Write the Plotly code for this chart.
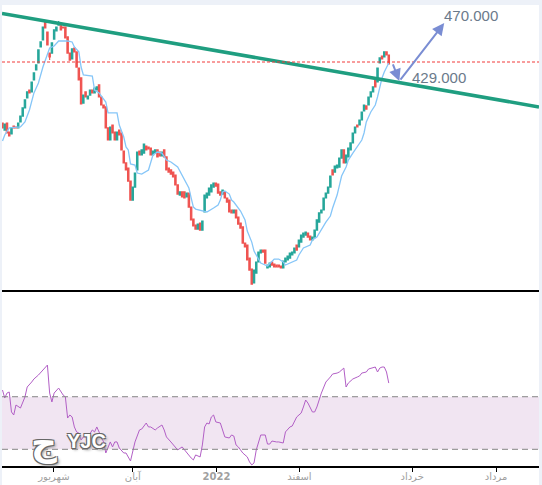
import plotly.graph_objects as go

# ---------------- data ----------------
OPEN = [398.6, 393.6, 398.6, 392.2, 390.8, 396.5, 395.8, 395.1, 399.4, 403.6,
        409.4, 416.5, 422.2, 420.8, 429.4, 436.5, 441.5, 452.9, 457.9, 470.8,
        463.6, 448.6, 448.6, 458.6, 464.4, 468.6, 469.4, 467.2, 467.2, 460.1,
        448.6, 444.4, 452.2, 449.4, 437.9, 430.8, 412.9, 420.8, 415.8, 418.6,
        422.2, 420.1, 422.2, 425.8, 417.2, 411.5, 410.1, 395.1, 386.5, 397.2,
        392.2, 386.5, 393.6, 391.5, 378.6, 370.1, 366.5, 357.2, 343.6, 352.9,
        365.1, 378.6, 375.8, 377.2, 382.2, 381.5, 380.8, 375.8, 377.2, 379.4,
        377.9, 375.1, 379.4, 374.4, 366.5, 365.1, 363.6, 361.5, 354.4, 347.2,
        349.4, 349.4, 345.8, 348.6, 338.6, 330.1, 325.8, 322.9, 327.2, 322.2,
        335.1, 345.1, 347.2, 349.4, 352.9, 355.8, 355.1, 349.4, 347.9, 349.4,
        345.1, 343.6, 336.5, 334.4, 336.5, 331.5, 327.2, 324.4, 312.9, 311.5,
        302.2, 294.4, 284.4, 291.5, 299.4, 305.8, 307.9, 307.9, 295.1, 295.8,
        299.4, 297.9, 297.2, 297.2, 296.5, 295.1, 299.4, 300.8, 302.2, 304.4,
        305.8, 311.5, 310.1, 313.6, 317.2, 318.6, 320.1, 317.9, 315.1, 317.2,
        322.2, 327.9, 334.4, 336.5, 345.1, 348.6, 352.9, 365.1, 363.6, 366.5,
        367.2, 373.6, 379.4, 370.1, 374.4, 379.4, 384.4, 391.5, 397.2, 397.2,
        400.8, 407.2, 410.8, 411.5, 417.2, 420.8, 429.4, 427.9, 441.5, 446.5,
        445.8, 449.4, 447.2]

CLOSE = [395.1, 397.9, 391.5, 389.4, 395.1, 395.1, 395.1, 398.6, 403.6, 409.4,
         415.1, 420.8, 420.1, 427.9, 434.4, 440.1, 450.8, 456.5, 467.2, 466.5,
         454.4, 445.8, 455.8, 465.1, 467.2, 469.4, 465.1, 466.5, 459.4, 448.6,
         443.6, 451.5, 449.4, 438.6, 429.4, 412.2, 418.6, 417.2, 417.9, 422.2,
         420.1, 423.6, 424.4, 417.2, 411.5, 409.4, 395.1, 386.5, 395.8, 391.5,
         386.5, 392.2, 390.1, 379.4, 370.1, 365.1, 357.2, 343.6, 352.9, 362.9,
         377.9, 375.8, 379.4, 383.6, 379.4, 380.1, 375.8, 378.6, 379.4, 374.4,
         375.1, 377.9, 374.4, 365.1, 363.6, 362.2, 360.1, 354.4, 347.9, 349.4,
         345.8, 345.1, 348.6, 338.6, 329.4, 325.1, 322.9, 326.5, 322.2, 328.6,
         347.2, 348.6, 352.2, 354.4, 355.8, 353.6, 348.6, 347.2, 350.8, 345.1,
         342.2, 335.1, 334.4, 336.5, 330.8, 326.5, 323.6, 312.9, 310.1, 300.8,
         293.6, 283.6, 293.6, 299.4, 306.5, 307.9, 306.5, 298.6, 297.2, 298.6,
         297.2, 295.8, 295.8, 295.8, 295.1, 300.1, 302.2, 303.6, 305.8, 306.5,
         309.4, 307.9, 315.1, 318.6, 320.1, 320.8, 317.2, 315.1, 317.2, 322.2,
         329.4, 334.4, 336.5, 345.1, 348.6, 352.9, 360.8, 361.5, 367.9, 368.6,
         373.6, 379.4, 370.1, 375.8, 380.8, 384.4, 391.5, 395.8, 395.8, 400.8,
         406.5, 411.5, 408.6, 417.2, 420.8, 424.4, 424.4, 437.9, 445.1, 444.4,
         449.4, 447.2, 440.8]

WICK_HIGH = {19: 472.2, 25: 471.5}
WICK_LOW = {21: 443.6}

MA_X = [0, 1, 3, 8, 10, 12, 14, 16, 18, 20, 21, 23, 25, 29, 31, 32, 34, 35, 36, 40,
        41, 43, 46, 47, 51, 52, 54, 55, 56, 57, 59, 60, 62, 65, 66, 67, 69, 71, 73, 75,
        78, 80, 81, 83, 84, 85, 86, 89, 91, 94, 96, 97, 98, 99, 101, 102, 103, 106, 108, 109,
        111, 112, 114, 115, 118, 120, 121, 123, 125, 126, 129, 131, 132, 134, 137, 138, 140, 142, 144, 146,
        147, 149, 150, 151, 153, 154, 156, 158, 160, 161, 162, 164, 166, 167, 168, 169, 170, 171, 172]
MA_Y = [385.8, 390.1, 395.1, 395.8, 399.4, 407.9, 420.1, 427.2, 438.6, 448.6, 452.2, 453.6, 457.2, 457.2, 456.5, 452.9, 449.4, 438.6, 432.9, 432.2,
        422.2, 420.1, 413.6, 405.8, 405.8, 397.2, 388.6, 381.5, 379.4, 369.4, 368.6, 362.9, 362.2, 365.1, 370.1, 375.8, 377.9, 377.2, 372.2, 370.8,
        367.2, 361.5, 357.9, 352.2, 345.1, 338.6, 337.2, 335.8, 335.1, 337.9, 340.1, 343.6, 349.4, 350.1, 347.9, 343.6, 342.2, 335.8, 329.4, 321.5,
        313.6, 307.2, 301.5, 298.6, 296.5, 299.4, 301.5, 301.5, 299.4, 297.2, 299.4, 300.8, 304.4, 309.4, 311.5, 315.1, 317.2, 322.9, 327.9, 332.2,
        337.9, 347.2, 354.4, 360.8, 367.2, 372.2, 377.2, 381.5, 386.5, 391.5, 399.4, 406.5, 411.5, 417.2, 424.4, 430.8, 435.1, 437.9, 441.5]

RSI_X = [0, 1, 2, 3, 4, 5, 6, 7, 8, 10, 11, 13, 14, 16, 18, 19, 20, 21, 22, 23,
         24, 25, 27, 28, 29, 30, 31, 32, 33, 34, 35, 36, 38, 40, 41, 42, 44, 45, 46, 48,
         49, 50, 51, 52, 54, 55, 57, 58, 59, 61, 62, 64, 65, 66, 68, 69, 71, 72, 73, 75,
         77, 78, 80, 82, 84, 85, 86, 88, 89, 90, 91, 92, 93, 94, 95, 97, 98, 99, 101, 102,
         103, 104, 105, 107, 109, 110, 111, 112, 113, 114, 115, 117, 118, 119, 120, 122, 123, 125, 126, 128,
         129, 131, 133, 134, 135, 136, 138, 139, 140, 142, 143, 144, 146, 147, 149, 150, 152, 153, 154, 156,
         158, 159, 160, 162, 163, 165, 166, 167, 168, 169, 170, 171, 172]
RSI_Y = [75.1, 69.0, 72.8, 73.6, 58.4, 56.1, 63.7, 62.2, 61.4, 69.8, 77.4, 81.2, 83.5, 86.5, 90.3, 93.0, 94.1, 72.8, 66.0, 72.8,
         75.1, 76.6, 71.3, 69.8, 53.8, 56.1, 54.6, 47.0, 43.2, 42.4, 37.1, 39.4, 39.4, 44.7, 43.2, 47.0, 39.4, 35.6, 27.2, 35.6,
         31.8, 35.6, 35.6, 31.0, 27.2, 27.2, 21.1, 29.5, 35.6, 44.7, 45.4, 50.0, 47.0, 47.0, 44.7, 46.2, 48.5, 44.7, 39.4, 35.6,
         31.8, 29.5, 31.8, 27.2, 23.4, 21.9, 25.7, 24.2, 33.3, 47.0, 50.0, 49.3, 54.6, 56.1, 50.8, 50.0, 44.7, 39.4, 38.6, 40.9,
         40.1, 33.3, 31.8, 27.2, 24.2, 20.4, 18.1, 19.6, 29.5, 35.6, 40.9, 40.9, 34.0, 34.0, 36.3, 35.6, 35.6, 34.8, 43.2, 47.0,
         47.7, 54.6, 57.6, 62.2, 67.5, 65.2, 58.4, 58.4, 62.2, 72.8, 77.4, 81.2, 85.0, 87.3, 88.0, 88.8, 91.8, 77.4, 80.4, 83.5,
         85.0, 85.8, 88.0, 88.8, 91.1, 91.8, 92.6, 88.8, 91.8, 92.6, 92.6, 88.8, 80.4]

RSI_BAND = [30, 70]
TREND_X = [-0.22, 238.9]
TREND_Y = [476.9, 410.1]
RESISTANCE = 442.2
TARGET_LOW = 429
TARGET_HIGH = 470
TICK_POS = [22.9, 58.0, 95.3, 132.2, 182.4, 219.8]
TICK_TEXT = ["شهریور", "آبان", "<b>2022</b>", "اسفند", "خرداد", "مرداد"]

# ---------------- figure ----------------
IDX = list(range(len(OPEN)))
HIGH = [max(o, c) for o, c in zip(OPEN, CLOSE)]
LOW = [min(o, c) for o, c in zip(OPEN, CLOSE)]
for k, v in WICK_HIGH.items():
    HIGH[k] = v
for k, v in WICK_LOW.items():
    LOW[k] = v

XR = [-0.22, 238.9]
fig = go.Figure()

fig.add_trace(go.Scatter(x=MA_X, y=MA_Y, mode="lines",
                         line=dict(color="#86c6f8", width=1.3),
                         xaxis="x", yaxis="y", hoverinfo="skip"))
fig.add_trace(go.Candlestick(
    x=IDX, open=OPEN, high=HIGH, low=LOW, close=CLOSE,
    increasing=dict(line=dict(color="#26a69a", width=1.2), fillcolor="#26a69a"),
    decreasing=dict(line=dict(color="#ef5350", width=1.2), fillcolor="#ef5350"),
    whiskerwidth=0, xaxis="x", yaxis="y"))
fig.add_trace(go.Scatter(x=TREND_X, y=TREND_Y, mode="lines",
                         line=dict(color="#1f9e80", width=3.5),
                         xaxis="x", yaxis="y", hoverinfo="skip"))
fig.add_trace(go.Scatter(x=RSI_X, y=RSI_Y, mode="lines",
                         line=dict(color="#b25fc6", width=1),
                         xaxis="x2", yaxis="y2", hoverinfo="skip"))

BORDER = "#edf1f8"
shapes = [
    dict(type="rect", xref="paper", yref="y2", x0=0, x1=1,
         y0=RSI_BAND[0], y1=RSI_BAND[1], fillcolor="#f1e5f2",
         line=dict(width=0), layer="below"),
    dict(type="line", xref="paper", yref="y2", x0=0, x1=1,
         y0=RSI_BAND[0], y1=RSI_BAND[0],
         line=dict(color="#858585", width=1, dash="6px,4px")),
    dict(type="line", xref="paper", yref="y2", x0=0, x1=1,
         y0=RSI_BAND[1], y1=RSI_BAND[1],
         line=dict(color="#858585", width=1, dash="6px,4px")),
    dict(type="line", xref="paper", yref="y", x0=0, x1=1,
         y0=RESISTANCE, y1=RESISTANCE,
         line=dict(color="#f23a3a", width=1.2, dash="3px,2px")),
    # page border strips
    dict(type="rect", xref="paper", yref="paper", x0=-0.004, x1=0,
         y0=-0.05, y1=1.02, fillcolor=BORDER, line=dict(width=0)),
    dict(type="rect", xref="paper", yref="paper", x0=-0.004, x1=1.01,
         y0=1.0, y1=1.02, fillcolor=BORDER, line=dict(width=0)),
    dict(type="rect", xref="paper", yref="paper", x0=1.0, x1=1.01,
         y0=-0.05, y1=1.02, fillcolor=BORDER, line=dict(width=0)),
]

ARROW_C = "#7a8dd3"
LABEL_C = "#6b7a8b"
LOGO_SHADOW = "1px 1px 0 #666, -1px -1px 0 #666, 1px -1px 0 #666, -1px 1px 0 #666, 2px 2px 3px #999"
annotations = [
    dict(x=176.7, y=428.6, ax=173.6, ay=441.5, xref="x", yref="y",
         axref="x", ayref="y", showarrow=True, arrowhead=2, arrowsize=1.2,
         arrowwidth=2, arrowcolor=ARROW_C, text=""),
    dict(x=196.7, y=TARGET_HIGH, ax=176.7, ay=428.6, xref="x", yref="y",
         axref="x", ayref="y", showarrow=True, arrowhead=2, arrowsize=1.2,
         arrowwidth=2, arrowcolor=ARROW_C, text=""),
    dict(x=195.8, y=475.1, xref="x", yref="y", showarrow=False,
         text=f"{TARGET_HIGH:.3f}", xanchor="left", yanchor="middle",
         font=dict(size=15, color=LABEL_C, family="Arial")),
    dict(x=181.4, y=430.8, xref="x", yref="y", showarrow=False,
         text=f"{TARGET_LOW:.3f}", xanchor="left", yanchor="middle",
         font=dict(size=15, color=LABEL_C, family="Arial")),
    # logo
    dict(x=18.4, y=35.0, xref="x2", yref="y2", showarrow=False, text="<b>ج</b>",
         font=dict(size=36, color="white", family="DejaVu Sans",
                   shadow=LOGO_SHADOW)),
    dict(x=37.5, y=36.3, xref="x2", yref="y2", showarrow=False, text="<b>YJC</b>",
         font=dict(size=20, color="white", family="Arial",
                   shadow=LOGO_SHADOW)),
]

fig.update_layout(
    width=542, height=485,
    margin=dict(l=2, r=3, t=5, b=19, autoexpand=False),
    paper_bgcolor="white", plot_bgcolor="white",
    showlegend=False, boxgap=0.15,
    font=dict(family="DejaVu Sans", color="#999"),
    shapes=shapes, annotations=annotations,
    xaxis=dict(domain=[0, 1], range=XR, anchor="y", showticklabels=False,
               showline=True, linecolor="black", linewidth=2, ticks="",
               showgrid=False, zeroline=False, automargin=False,
               rangeslider=dict(visible=False)),
    yaxis=dict(domain=[0.3818, 1], range=[279.4, 482.9], visible=False,
               showgrid=False, zeroline=False),
    xaxis2=dict(domain=[0, 1], range=XR, anchor="y2", showline=True,
                linecolor="black", linewidth=2, ticks="outside", ticklen=4,
                tickcolor="black", tickwidth=1, tickvals=TICK_POS,
                ticktext=TICK_TEXT, showgrid=False, zeroline=False,
                automargin=False, ticklabelstandoff=-4,
                tickfont=dict(size=10, color="#a0a0a0", family="DejaVu Sans")),
    yaxis2=dict(domain=[0, 0.3818], range=[17.3, 151.2], visible=False,
                showgrid=False, zeroline=False),
)

fig.write_html("out.html")
